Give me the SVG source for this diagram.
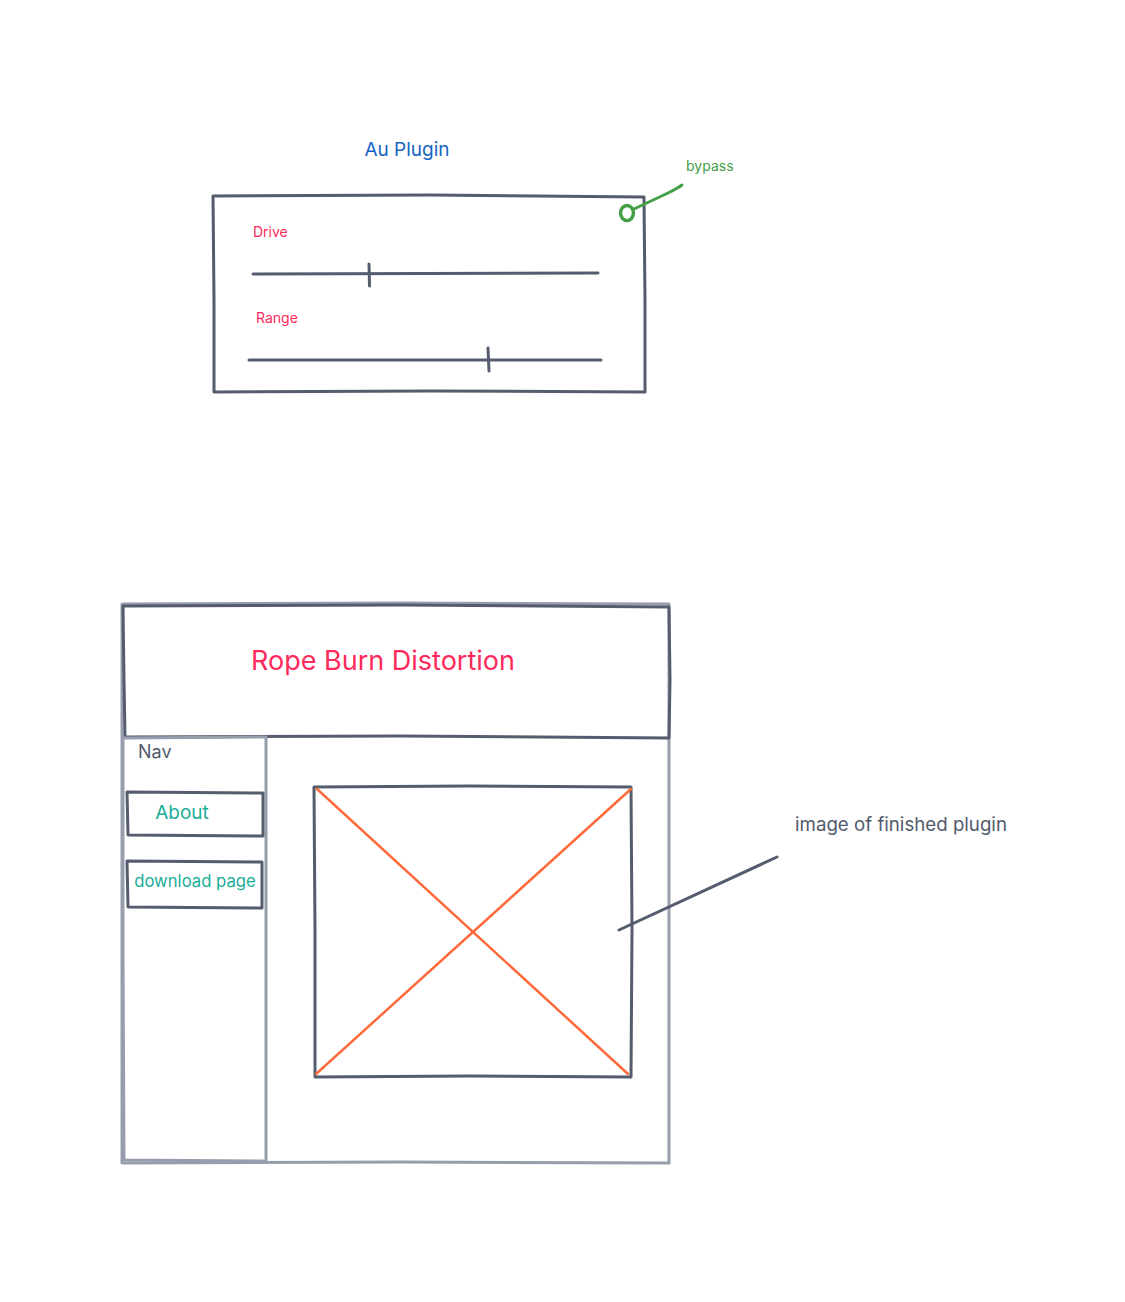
<svg xmlns="http://www.w3.org/2000/svg" width="1125" height="1302" viewBox="0 0 1125 1302">
  <style>
    text { font-family: Inter, "Noto Sans", "Liberation Sans", sans-serif; }
    .dark { fill: none; stroke: #555c6e; stroke-width: 3; stroke-linecap: round; stroke-linejoin: round; }
    .light { fill: none; stroke: #969dac; stroke-width: 3; stroke-linecap: round; stroke-linejoin: round; }
    .cross { fill: none; stroke: #ff6a3a; stroke-width: 2.5; stroke-linecap: round; }
    .pink { fill: #ff2a5c; }
    .teal { fill: #1aad98; }
    .slate { fill: #525a6c; }
  </style>
  <rect width="1125" height="1302" fill="#ffffff"/>

  <!-- AU plugin panel -->
  <g id="au-plugin">
    <text x="407" y="156" font-size="19" fill="#1565c0" text-anchor="middle">Au Plugin</text>
    <path class="dark" d="M213,196 L430,195 L644,197 L645,300 L645,392 L430,391 L214,392 L214,300 Z"/>
  </g>

  <g id="drive-slider">
    <text x="253" y="237" font-size="14" class="pink">Drive</text>
    <line class="dark" x1="253" y1="274" x2="598" y2="273"/>
    <line class="dark" x1="369" y1="264" x2="369.5" y2="286"/>
  </g>

  <g id="range-slider">
    <text x="256" y="323" font-size="14" class="pink">Range</text>
    <line class="dark" x1="249" y1="360" x2="601" y2="360"/>
    <line class="dark" x1="488" y1="348" x2="489" y2="371"/>
  </g>

  <g id="bypass">
    <ellipse cx="627" cy="213" rx="6.5" ry="7.5" fill="none" stroke="#43a047" stroke-width="3.5"/>
    <path d="M634,209 L668,193 Q678,188 682,185" fill="none" stroke="#43a047" stroke-width="3" stroke-linecap="round"/>
    <text x="686" y="171" font-size="14" fill="#43a047">bypass</text>
  </g>

  <!-- Web page wireframe -->
  <g id="page-frame">
    <path class="light" d="M122,604 L400,603 L669,604 L669,900 L669,1163 L400,1162 L122,1163 L122,900 Z"/>
  </g>

  <g id="header">
    <path class="dark" d="M123,606 L400,605 L669,607 L670,680 L669,738 L400,736 L125,737 L124,680 Z"/>
    <text x="383" y="670" font-size="27" class="pink" text-anchor="middle">Rope Burn Distortion</text>
  </g>

  <g id="nav">
    <path class="light" d="M123,738 L266,737 L266,950 L266,1161 L124,1160 L123,950 Z"/>
    <text x="138" y="758" font-size="18" class="slate">Nav</text>
  </g>

  <g id="about-button">
    <path class="dark" d="M127,792 L263,793 L263,836 L128,835 Z"/>
    <text x="182" y="819" font-size="19" class="teal" text-anchor="middle">About</text>
  </g>

  <g id="download-button">
    <path class="dark" d="M127,861 L262,862 L262,908 L128,907 Z"/>
    <text x="195" y="887" font-size="16.7" class="teal" text-anchor="middle">download page</text>
  </g>

  <g id="image-placeholder">
    <path class="dark" d="M314,787 L470,786 L631,787 L632,930 L631,1077 L470,1076 L315,1077 L315,930 Z"/>
    <line class="cross" x1="317" y1="789" x2="628" y2="1074"/>
    <line class="cross" x1="631" y1="789" x2="316" y2="1074"/>
  </g>

  <g id="image-note">
    <text x="795" y="831" font-size="18.7" class="slate">image of finished plugin</text>
  </g>

  <g id="connectors">
    <line class="dark" x1="619" y1="930" x2="777" y2="857"/>
  </g>
</svg>
